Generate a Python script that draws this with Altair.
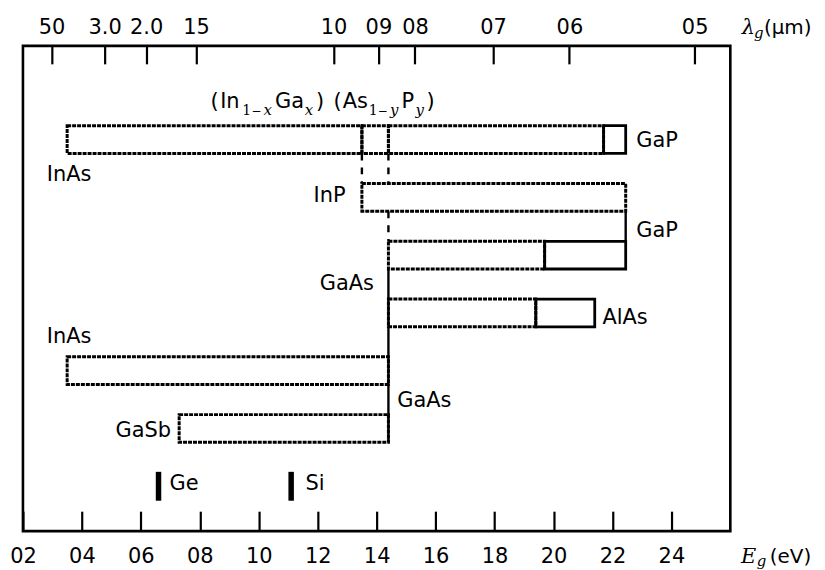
import json
import altair as alt
import pandas as pd

# ---------------- axis ticks ----------------
bottom_ticks = [0.2, 0.4, 0.6, 0.8, 1.0, 1.2, 1.4, 1.6, 1.8, 2.0, 2.2, 2.4]
bottom_labels = ["02", "04", "06", "08", "10", "12", "14", "16", "18", "20", "22", "24"]
# wavelength ticks, placed at their photon energies (eV)
top_ticks = [0.297, 0.477, 0.618, 0.787, 1.254, 1.406, 1.530, 1.795, 2.054, 2.479]
top_labels = ["50", "3.0", "2.0", "15", "10", "09", "08", "07", "06", "05"]

# ---------------- alloy bars (band gap ranges, eV) ----------------
seg_row = [1, 1, 1, 1, 2, 3, 3, 4, 4, 5, 6]
seg_start = [0.35, 1.35, 1.44, 2.17, 1.35, 1.44, 1.97, 1.44, 1.94, 0.35, 0.73]
seg_end = [1.35, 1.44, 2.17, 2.245, 2.245, 1.97, 2.245, 1.94, 2.14, 1.44, 1.44]
seg_kind = ["direct", "direct", "direct", "indirect", "direct", "direct",
            "indirect", "direct", "indirect", "direct", "direct"]

# connector lines between bars
conn_E = [1.35, 1.44, 1.44, 2.245, 1.44]
conn_from = [1.24, 1.24, 2.24, 2.24, 3.24]
conn_to = [1.76, 1.76, 2.76, 2.76, 6.24]
conn_kind = ["dashed", "dashed", "dashed", "solid", "solid"]

# elemental semiconductors
elem_name = ["Ge", "Si"]
elem_E = [0.66, 1.11]
elem_row = [7, 7]

# compound labels
lab_text = ["InAs", "GaP", "InP", "GaP", "GaAs", "AlAs", "InAs", "GaAs", "GaSb", "Ge", "Si"]
lab_E = [0.281, 2.281, 1.186, 2.281, 1.207, 2.166, 0.281, 1.470, 0.514, 0.697, 1.159]
lab_row = [1.62, 1.017, 1.974, 2.586, 3.508, 4.086, 4.422, 5.526, 6.043, 6.957, 6.957]

# formula (In1-xGax)(As1-yPy)
ttl_main_text = ["(", "In", "Ga", ")", "(", "As", "P", ")"]
ttl_main_E = [0.836, 0.869, 1.055, 1.194, 1.254, 1.285, 1.484, 1.569]
ttl_sub_text = ["1", "\u2212", "1", "\u2212"]
ttl_sub_E = [0.944, 0.976, 1.373, 1.405]
ttl_sub_size = [14, 12, 14, 12]
ttl_subi_text = ["x", "x", "y", "y"]
ttl_subi_E = [1.016, 1.156, 1.445, 1.532]
ttl_row_main = 0.448
ttl_row_sub = 0.569

# axis titles  (lambda_g (um), E_g (eV))
axt_text = ["(\u03bcm)", "(eV)"]
axt_E = [2.714, 2.734]
axt_row = [-0.828, 8.327]
axt_it_text = ["\u03bb", "E"]
axt_it_E = [2.639, 2.636]
axt_it_row = [-0.828, 8.327]
axt_sub_text = ["g", "g"]
axt_sub_E = [2.680, 2.690]
axt_sub_row = [-0.76, 8.38]

FONT = "DejaVu Sans"
xs = alt.Scale(domain=[0.2, 2.6], nice=False, zero=False)
ys = alt.Scale(domain=[-0.621, 7.776], reverse=True, nice=False, zero=False)


def X(field, axis=None):
    return alt.X(field, type="quantitative", scale=xs, axis=axis)


def Y(field):
    return alt.Y(field, type="quantitative", scale=ys, axis=None)


bottom_axis = alt.Axis(
    orient="bottom", values=bottom_ticks,
    labelExpr=f"{json.dumps(bottom_labels)}[indexof({json.dumps(bottom_ticks)}, datum.value)]",
    tickSize=20, offset=-20, domain=False, grid=False, ticks=True,
    tickColor="black", tickWidth=2.2, labelPadding=32, labelBaseline="alphabetic",
    labelFont=FONT, labelFontSize=21, labelColor="black", labelFlush=False,
    labelOverlap=False, title=None,
)
top_axis = alt.Axis(
    orient="top", values=top_ticks,
    labelExpr=f"{json.dumps(top_labels)}[indexof({json.dumps(top_ticks)}, datum.value)]",
    tickSize=18, offset=-18, domain=False, grid=False, ticks=True,
    tickColor="black", tickWidth=2.2, labelPadding=12, labelBaseline="alphabetic",
    labelFont=FONT, labelFontSize=21, labelColor="black", labelFlush=False,
    labelOverlap=False, title=None,
)

seg_df = pd.DataFrame({"row": seg_row, "start": seg_start, "end": seg_end, "kind": seg_kind})
seg_base = alt.Chart(seg_df).transform_calculate(
    top="datum.row - 0.24", bot="datum.row + 0.24"
)
bars_direct = seg_base.transform_filter("datum.kind == 'direct'").mark_rect(
    filled=False, stroke="black", strokeWidth=3, strokeDash=[4, 1]
).encode(x=X("start", bottom_axis), x2="end", y=Y("top"), y2="bot")
bars_indirect = seg_base.transform_filter("datum.kind == 'indirect'").mark_rect(
    filled=False, stroke="black", strokeWidth=2.8
).encode(x=X("start"), x2="end", y=Y("top"), y2="bot")

conn_df = pd.DataFrame({"E": conn_E, "y0": conn_from, "y1": conn_to, "kind": conn_kind})
conn_dash = alt.Chart(conn_df).transform_filter("datum.kind == 'dashed'").mark_rule(
    color="black", strokeWidth=2.4, strokeDash=[7, 7]
).encode(x=X("E"), y=Y("y0"), y2="y1")
conn_solid = alt.Chart(conn_df).transform_filter("datum.kind == 'solid'").mark_rule(
    color="black", strokeWidth=2.4
).encode(x=X("E"), y=Y("y0"), y2="y1")

elem_df = pd.DataFrame({"name": elem_name, "E": elem_E, "row": elem_row})
elems = alt.Chart(elem_df).transform_calculate(
    top="datum.row - 0.25", bot="datum.row + 0.25"
).mark_rule(color="black", strokeWidth=5.5).encode(x=X("E"), y=Y("top"), y2="bot")

lab_df = pd.DataFrame({"text": lab_text, "E": lab_E, "row": lab_row})
labels = alt.Chart(lab_df).mark_text(
    align="left", baseline="middle", font=FONT, fontSize=21, color="black"
).encode(x=X("E"), y=Y("row"), text="text:N")

tm_df = pd.DataFrame({"text": ttl_main_text, "E": ttl_main_E, "row": [ttl_row_main] * len(ttl_main_E)})
ts_df = pd.DataFrame({"text": ttl_sub_text, "E": ttl_sub_E, "size": ttl_sub_size,
                      "row": [ttl_row_sub] * len(ttl_sub_E)})
ti_df = pd.DataFrame({"text": ttl_subi_text, "E": ttl_subi_E, "row": [ttl_row_sub] * len(ttl_subi_E)})
title_main = alt.Chart(tm_df).mark_text(
    align="left", baseline="alphabetic", font=FONT, fontSize=21, color="black"
).encode(x=X("E"), y=Y("row"), text="text:N")
title_sub = alt.Chart(ts_df).mark_text(
    align="left", baseline="alphabetic", font="DejaVu Serif", color="black"
).encode(x=X("E"), y=Y("row"), text="text:N",
         size=alt.Size("size:Q", scale=None, legend=None))
title_subi = alt.Chart(ti_df).mark_text(
    align="left", baseline="alphabetic", font="DejaVu Serif", fontSize=15,
    fontStyle="italic", color="black"
).encode(x=X("E"), y=Y("row"), text="text:N")

ax_df = pd.DataFrame({"text": axt_text, "E": axt_E, "row": axt_row})
axi_df = pd.DataFrame({"text": axt_it_text, "E": axt_it_E, "row": axt_it_row})
axs_df = pd.DataFrame({"text": axt_sub_text, "E": axt_sub_E, "row": axt_sub_row})
ax_plain = alt.Chart(ax_df).mark_text(
    align="left", baseline="alphabetic", font=FONT, fontSize=20, color="black"
).encode(x=X("E"), y=Y("row"), text="text:N")
ax_ital = alt.Chart(axi_df).mark_text(
    align="left", baseline="alphabetic", font="DejaVu Serif", fontSize=21,
    fontStyle="italic", color="black"
).encode(x=X("E"), y=Y("row"), text="text:N")
ax_sub = alt.Chart(axs_df).mark_text(
    align="left", baseline="alphabetic", font="DejaVu Serif", fontSize=15,
    fontStyle="italic", color="black"
).encode(x=X("E"), y=Y("row"), text="text:N")

top_df = pd.DataFrame({"E": top_ticks})
top_carrier = alt.Chart(top_df).mark_point(opacity=0).encode(x=X("E", top_axis))

chart = alt.layer(
    bars_direct, bars_indirect, conn_dash, conn_solid, elems, labels,
    title_main, title_sub, title_subi, ax_plain, ax_ital, ax_sub, top_carrier,
).resolve_axis(x="independent").properties(
    width=710, height=487,
    autosize=alt.AutoSizeParams(type="none"),
    padding={"left": 15, "top": 37, "right": 87, "bottom": 42},
    background="white",
).configure_view(stroke="black", strokeWidth=2.6)

chart.save("out.html", embed_options={"renderer": "svg", "actions": False})
